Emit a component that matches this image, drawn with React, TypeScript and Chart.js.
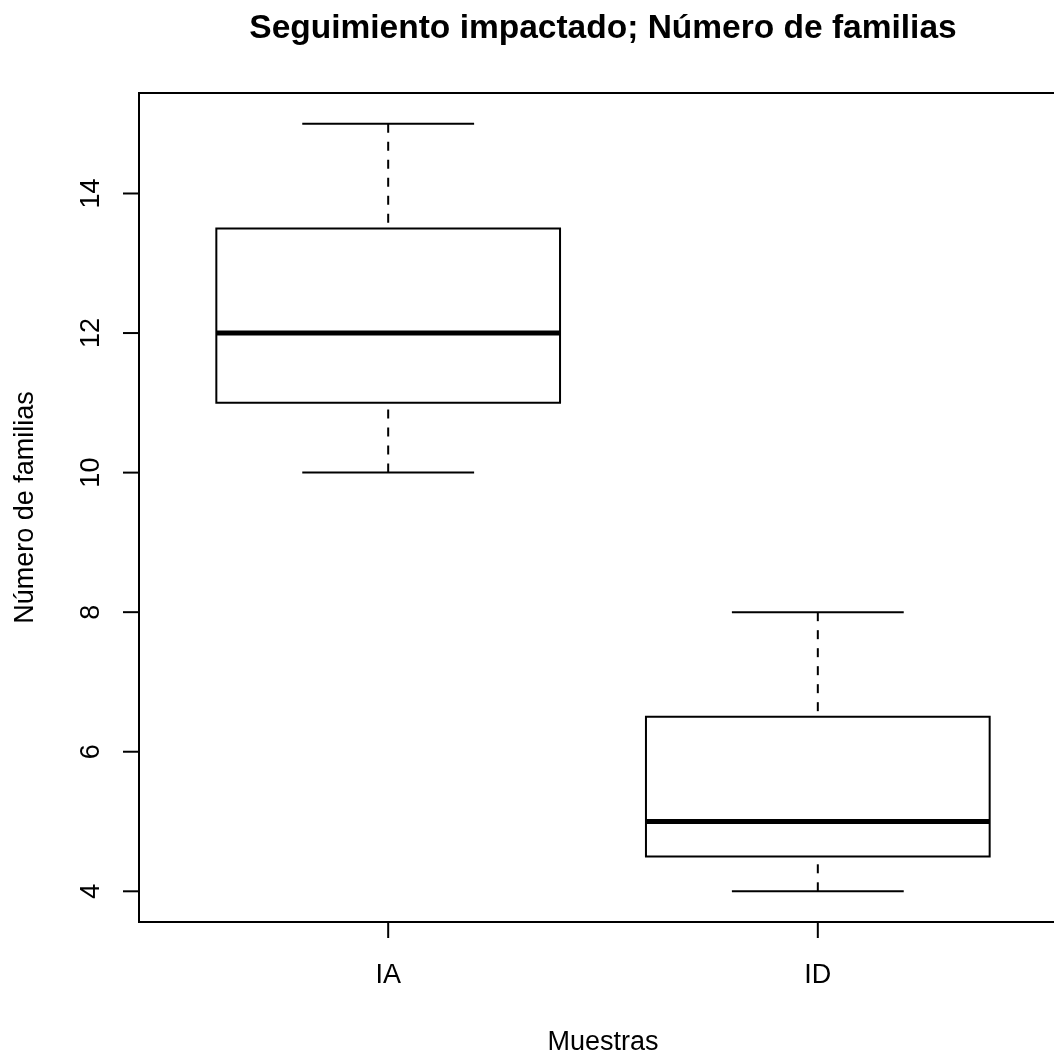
import React, { useEffect, useRef } from "react";
import { Chart, registerables } from "chart.js";

Chart.register(...registerables);

const categories = ["IA", "ID"];
const whiskerLow = [10, 4];
const q1 = [11, 4.5];
const medians = [12, 5];
const q3 = [13.5, 6.5];
const whiskerHigh = [15, 8];
const yTicks = [4, 6, 8, 10, 12, 14];

const title = "Seguimiento impactado; Número de familias";
const xTitle = "Muestras";
const yTitle = "Número de familias";

const BOX_HALF = 0.4;
const CAP_HALF = 0.2;
const FONT = '"Liberation Sans", Arial, sans-serif';

function line(data: { x: number; y: number }[], width: number, dash: number[] = [], cap: CanvasLineCap = "butt") {
  return {
    data,
    showLine: true,
    borderColor: "#000",
    backgroundColor: "#000",
    borderWidth: width,
    borderDash: dash,
    borderCapStyle: cap,
    borderJoinStyle: "miter" as CanvasLineJoin,
    pointRadius: 0,
    pointHoverRadius: 0,
    fill: false,
    tension: 0,
  };
}

function buildDatasets() {
  const ds: any[] = [];
  categories.forEach((_, i) => {
    const p = i + 1;
    ds.push(line([{ x: p, y: whiskerHigh[i] }, { x: p, y: q3[i] }], 2, [9, 9]));
    ds.push(line([{ x: p, y: whiskerLow[i] }, { x: p, y: q1[i] }], 2, [9, 9]));
    ds.push(line([{ x: p - CAP_HALF, y: whiskerHigh[i] }, { x: p + CAP_HALF, y: whiskerHigh[i] }], 2));
    ds.push(line([{ x: p - CAP_HALF, y: whiskerLow[i] }, { x: p + CAP_HALF, y: whiskerLow[i] }], 2));
    ds.push(
      line(
        [
          { x: p - BOX_HALF, y: q1[i] },
          { x: p + BOX_HALF, y: q1[i] },
          { x: p + BOX_HALF, y: q3[i] },
          { x: p - BOX_HALF, y: q3[i] },
          { x: p - BOX_HALF, y: q1[i] },
        ],
        2,
        [],
        "square"
      )
    );
    ds.push(line([{ x: p - BOX_HALF, y: medians[i] }, { x: p + BOX_HALF, y: medians[i] }], 5));
  });
  return ds;
}

const axesPlugin = {
  id: "rAxes",
  afterDraw(chart: any) {
    const { ctx, chartArea } = chart;
    const xs = chart.scales.x;
    const ys = chart.scales.y;
    const { left, top, right, bottom } = chartArea;
    ctx.save();
    ctx.strokeStyle = "#000";
    ctx.fillStyle = "#000";
    ctx.lineWidth = 2;
    ctx.setLineDash([]);
    ctx.strokeRect(left, top, right - left, bottom - top);

    // y ticks
    ctx.font = `27px ${FONT}`;
    ctx.textAlign = "center";
    ctx.textBaseline = "alphabetic";
    yTicks.forEach((t) => {
      const y = ys.getPixelForValue(t);
      ctx.beginPath();
      ctx.moveTo(left, y);
      ctx.lineTo(left - 16, y);
      ctx.stroke();
      ctx.save();
      ctx.translate(99, y);
      ctx.rotate(-Math.PI / 2);
      ctx.fillText(String(t), 0, 0);
      ctx.restore();
    });

    // x ticks
    categories.forEach((c, i) => {
      const x = xs.getPixelForValue(i + 1);
      ctx.beginPath();
      ctx.moveTo(x, bottom);
      ctx.lineTo(x, bottom + 16);
      ctx.stroke();
      ctx.fillText(c, x, 983);
    });

    const cx = (left + right) / 2;
    const cy = (top + bottom) / 2;
    ctx.fillText(xTitle, cx, 1050);

    ctx.save();
    ctx.translate(33, cy);
    ctx.rotate(-Math.PI / 2);
    ctx.fillText(yTitle, 0, 0);
    ctx.restore();

    ctx.font = `bold 33.5px ${FONT}`;
    ctx.fillText(title, cx, 38);
    ctx.restore();
  },
};

export default function App() {
  const ref = useRef<HTMLCanvasElement | null>(null);
  useEffect(() => {
    if (!ref.current) return;
    const chart = new Chart(ref.current, {
      type: "scatter",
      data: { datasets: buildDatasets() },
      options: {
        responsive: false,
        animation: false,
        devicePixelRatio: 1,
        layout: { padding: { left: 139, top: 93, right: 33, bottom: 133 } },
        scales: {
          x: { type: "linear", min: 0.42, max: 2.58, display: false },
          y: { type: "linear", min: 3.56, max: 15.44, display: false },
        },
        plugins: { legend: { display: false }, tooltip: { enabled: false } },
        events: [],
      },
      plugins: [axesPlugin],
    } as any);
    return () => chart.destroy();
  }, []);
  return (
    <div
      style={{
        position: "fixed",
        left: 0,
        top: 0,
        width: 1054,
        height: 1055,
        overflow: "hidden",
        background: "#fff",
      }}
    >
      <canvas ref={ref} width={1100} height={1055} style={{ display: "block", width: 1100, height: 1055 }} />
    </div>
  );
}
